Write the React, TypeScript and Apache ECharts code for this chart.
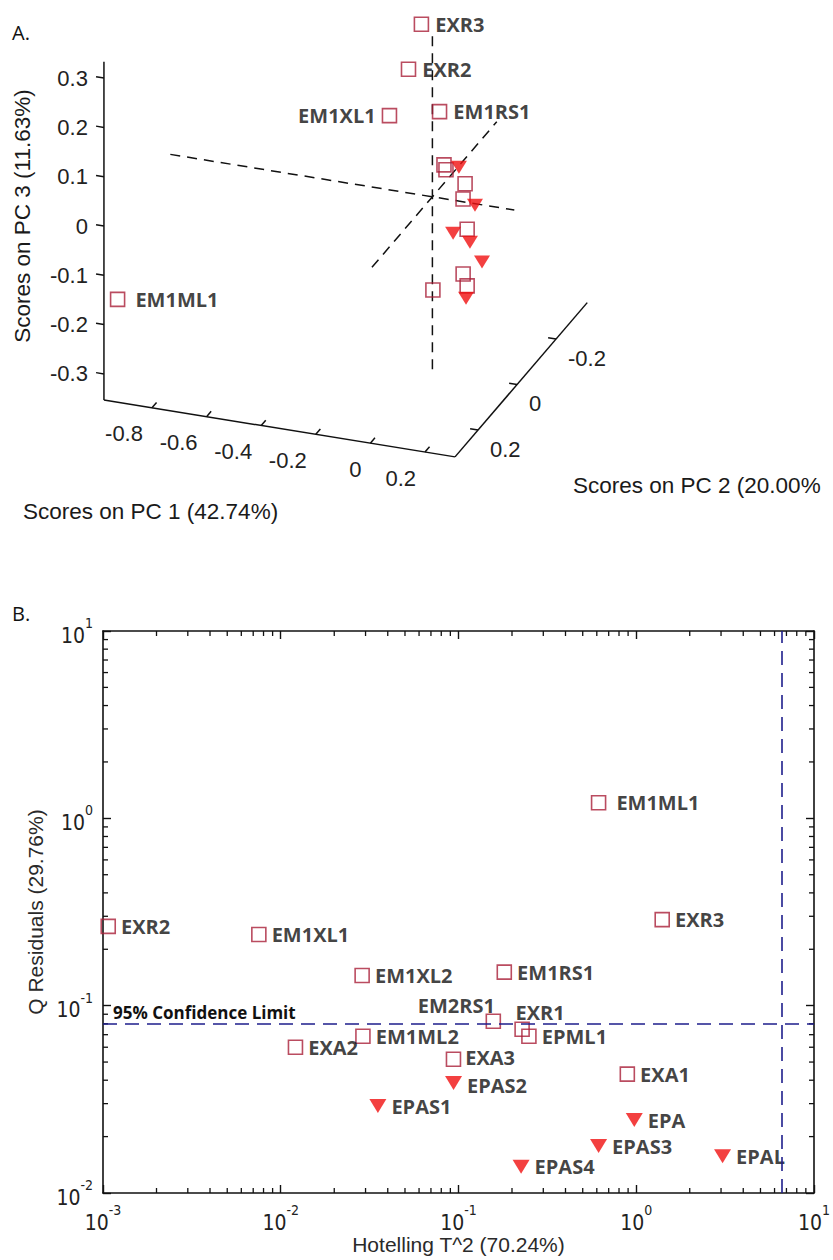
import React, { useEffect, useRef } from "react";
import * as echarts from "echarts";

// ---------------- Data ----------------
const sampleNames = [
  "EXR2", "EM1XL1", "EM1XL2", "EM1ML2", "EXA2", "EPAS1", "EM1ML1", "EXR3", "EM1RS1", "EM2RS1",
  "EXR1", "EPML1", "EXA3", "EPAS2", "EXA1", "EPA", "EPAS3", "EPAL", "EPAS4",
];
const sampleShape = [
  "square", "square", "square", "square", "square", "triangle", "square", "square", "square", "square",
  "square", "square", "square", "triangle", "square", "triangle", "triangle", "triangle", "triangle",
];

// Panel B: Hotelling T^2 vs Q residuals
const hotellingT2 = [
  0.00107, 0.00753, 0.0287, 0.029, 0.0121, 0.0352, 0.614, 1.4, 0.181, 0.157,
  0.228, 0.249, 0.0937, 0.0938, 0.891, 0.975, 0.614, 3.06, 0.225,
];
const qResiduals = [
  0.265, 0.24, 0.145, 0.0687, 0.06, 0.0291, 1.21, 0.288, 0.151, 0.0826,
  0.0748, 0.0687, 0.0518, 0.0386, 0.0431, 0.0245, 0.0178, 0.0157, 0.0138,
];
const qLimit95 = 0.0776;
const t2Limit95 = 6.55;

// Panel A: scores on PC1, PC2, PC3
const pc1Scores = [
  -0.109, -0.143, -0.029, 0.014, 0.034, -0.01, -0.946, -0.076, -0.031, 0.098,
  0.163, 0.184, 0.163, 0.156, 0.109, 0.133, 0.159, 0.146, 0.166,
];
const pc2Scores = [
  -0.03, 0.02, -0.1, -0.05, -0.12, -0.15, 0.29, -0.05, -0.08, -0.02,
  0.05, 0.1, 0.05, 0.0, 0.15, 0.08, 0.03, -0.05, 0.06,
];
const pc3Scores = [
  0.235, 0.161, 0.016, 0.033, -0.026, -0.01, -0.159, 0.32, 0.133, -0.005,
  -0.028, -0.094, -0.143, -0.003, -0.11, -0.025, -0.064, -0.142, -0.163,
];
const pc1Range = [-0.976, 0.31];
const pc2Range = [-0.36, 0.318];
const pc3Range = [-0.353, 0.333];
const pc1Ticks = [-0.8, -0.6, -0.4, -0.2, 0, 0.2];
const pc2Ticks = [-0.2, 0, 0.2];
const pc3Ticks = [-0.3, -0.2, -0.1, 0, 0.1, 0.2, 0.3];
const pc1Name = "Scores on PC 1 (42.74%)";
const pc2Name = "Scores on PC 2 (20.00%";
const pc3Name = "Scores on PC 3 (11.63%)";

const labelledInA: Record<string, string> = {
  EXR3: "right", EXR2: "right", EM1XL1: "left", EM1RS1: "right", EM1ML1: "right",
};

// log axis ranges and minor ticks (panel B)
const t2Min = 0.001, t2Max = 10;
const qMin = 0.01, qMax = 10;
const minorMultipliers = [2, 3, 4, 5, 6, 7, 8, 9];
const t2Decades = [0.001, 0.01, 0.1, 1];
const qDecades = [0.01, 0.1, 1];

// ---------------- Styles ----------------
const FONT_AXIS = "'Liberation Sans', Arial, sans-serif";
const FONT_NARROW = "'Liberation Sans Narrow', 'Arial Narrow', 'DejaVu Sans Condensed', 'Liberation Sans', sans-serif";
const FONT_LABEL = "'Open Sans', 'Noto Sans', sans-serif";
const SQUARE_COLOR = "#a91f38";
const TRI_COLOR = "#f01010";
const LIMIT_COLOR = "#1e1e8c";
const TEXT_COLOR = "#1a1a1a";

// oblique view used to project 3-D scores onto panel A's (hidden) plane
const VIEW = { o: [432.4, 196.8], e1: [273, 44.2], e2: [-195, 227.5], e3: [0, -493] };
function project(a: number, b: number, c: number): number[] {
  return [
    VIEW.o[0] + a * VIEW.e1[0] + b * VIEW.e2[0] + c * VIEW.e3[0],
    VIEW.o[1] + a * VIEW.e1[1] + b * VIEW.e2[1] + c * VIEW.e3[1],
  ];
}

const pointLabel = {
  fontFamily: FONT_LABEL,
  fontWeight: "bold" as const,
  fontSize: 20,
  lineHeight: 20,
  color: "#111",
};

function renderPanelAAxes(_params: any, api: any) {
  const P = (a: number, b: number, c: number) => api.coord(project(a, b, c));
  const [a0, a1] = pc1Range;
  const [b0, b1] = pc2Range;
  const [c0, c1] = pc3Range;
  const solid = { stroke: "#111", lineWidth: 1.5 };
  const dashed = { stroke: "#111", lineWidth: 1.5, lineDash: [10, 7] };
  const seg = (p: number[], q: number[], style: any) => ({
    type: "line",
    shape: { x1: p[0], y1: p[1], x2: q[0], y2: q[1] },
    style,
  });
  const unit = (p: number[], q: number[]) => {
    const dx = q[0] - p[0], dy = q[1] - p[1];
    const l = Math.hypot(dx, dy);
    return [dx / l, dy / l];
  };
  const origin = P(0, 0, 0);
  const d1 = unit(origin, P(1, 0, 0));
  const d2 = unit(origin, P(0, 1, 0));
  const children: any[] = [];

  // dashed lines through the origin
  children.push(seg(P(-0.96, 0, 0), P(0.3, 0, 0), dashed));
  children.push(seg(P(0, 0.31, 0), P(0, -0.33, 0), dashed));
  children.push(seg(P(0, 0, -0.35), P(0, 0, 0.33), dashed));

  // box axes
  children.push(seg(P(a0, b1, c0), P(a0, b1, c1), solid));
  children.push(seg(P(a0, b1, c0), P(a1, b1, c0), solid));
  children.push(seg(P(a1, b1, c0), P(a1, b0, c0), solid));

  const tickText = (text: string, x: number, y: number, align: string) => ({
    type: "text",
    style: {
      text, x, y, align, verticalAlign: "middle",
      fontFamily: FONT_AXIS, fontSize: 22, fill: "#222",
    },
  });

  // PC3 ticks
  pc3Ticks.forEach((v) => {
    const p = P(a0, b1, v);
    children.push(seg(p, [p[0] - 8 * d1[0], p[1] - 8 * d1[1]], solid));
    children.push(tickText(String(v), p[0] - 16, p[1], "right"));
  });
  // PC1 ticks
  pc1Ticks.forEach((v) => {
    const p = P(v, b1, c0);
    children.push(seg(p, [p[0] - 7 * d2[0], p[1] - 7 * d2[1]], solid));
    children.push(tickText(String(v), p[0] - 9, p[1] + 26, "right"));
  });
  // PC2 ticks
  pc2Ticks.forEach((v) => {
    const p = P(a1, v, c0);
    children.push(seg(p, [p[0] - 8 * d1[0], p[1] - 8 * d1[1]], solid));
    children.push(tickText(String(v), p[0] + 12, p[1] + 19, "left"));
  });
  return { type: "group", children };
}

function renderMinorTicks(_params: any, api: any) {
  const kind = api.value(2);
  const v = kind === 0 ? api.value(0) : api.value(1);
  const style = { stroke: "#111", lineWidth: 1.3 };
  if (kind === 0) {
    const b = api.coord([v, qMin]);
    const t = api.coord([v, qMax]);
    return {
      type: "group",
      children: [
        { type: "line", shape: { x1: b[0], y1: b[1], x2: b[0], y2: b[1] - 5 }, style },
        { type: "line", shape: { x1: t[0], y1: t[1], x2: t[0], y2: t[1] + 5 }, style },
      ],
    };
  }
  const l = api.coord([t2Min, v]);
  const r = api.coord([t2Max, v]);
  return {
    type: "group",
    children: [
      { type: "line", shape: { x1: l[0], y1: l[1], x2: l[0] + 5, y2: l[1] }, style },
      { type: "line", shape: { x1: r[0], y1: r[1], x2: r[0] - 5, y2: r[1] }, style },
    ],
  };
}

function buildOption() {
  const idx = sampleNames.map((_, i) => i);
  const sqIdx = idx.filter((i) => sampleShape[i] === "square");
  const triIdx = idx.filter((i) => sampleShape[i] === "triangle");

  const aItem = (i: number) => {
    const name = sampleNames[i];
    const pos = labelledInA[name];
    return {
      name,
      value: project(pc1Scores[i], pc2Scores[i], pc3Scores[i]),
      label: {
        show: !!pos,
        position: pos || "right",
        distance: name === "EM1ML1" ? 10 : 6,
      },
    };
  };

  const bLabelCfg: Record<string, any> = {
    EM2RS1: { position: "top", distance: 0, offset: [-37, 2] },
    EXR1: { position: "top", distance: 0, offset: [18, 1] },
    EM1ML1: { position: "right", distance: 10 },
    EXA3: { position: "right", distance: 4, offset: [0, -2] },
    EPAS2: { position: "right", distance: 5, offset: [0, 2] },
  };
  const bItem = (i: number) => {
    const name = sampleNames[i];
    return {
      name,
      value: [hotellingT2[i], qResiduals[i]],
      label: { show: true, ...(bLabelCfg[name] || { position: "right", distance: 5 }) },
    };
  };

  const minorData: number[][] = [];
  t2Decades.forEach((d) => minorMultipliers.forEach((m) => minorData.push([m * d, qMin, 0])));
  qDecades.forEach((d) => minorMultipliers.forEach((m) => minorData.push([t2Min, m * d, 1])));

  const expRich = {
    b: { fontFamily: FONT_NARROW, fontSize: 21, color: "#222", lineHeight: 30, verticalAlign: "bottom" },
    s: { fontFamily: FONT_NARROW, fontSize: 14, color: "#222", lineHeight: 8, verticalAlign: "top" },
  };
  const expFormatter = (value: number) => `{b|10}{s|${Math.round(Math.log10(value))}}`;

  const logAxisCommon = {
    type: "log" as const,
    logBase: 10,
    gridIndex: 1,
    axisLine: { show: true, onZero: false, lineStyle: { color: "#111", width: 1.6 } },
    axisTick: { show: true, inside: true, length: 8, lineStyle: { color: "#111", width: 1.4 } },
    splitLine: { show: false },
    minorTick: { show: false },
  };

  return {
    animation: false,
    backgroundColor: "#ffffff",
    textStyle: { fontFamily: FONT_AXIS },
    graphic: [
      { type: "text", left: 12, top: 22, style: { text: "A.", fontFamily: FONT_LABEL, fontSize: 20, fill: "#111" } },
      { type: "text", left: 12, top: 603, style: { text: "B.", fontFamily: FONT_LABEL, fontSize: 20, fill: "#111" } },
      {
        type: "text", x: 22, y: 216, rotation: Math.PI / 2,
        style: { text: pc3Name, align: "center", verticalAlign: "middle", fontFamily: FONT_AXIS, fontSize: 22.5, fill: TEXT_COLOR },
      },
      {
        type: "text", x: 23, y: 511,
        style: { text: pc1Name, align: "left", verticalAlign: "middle", fontFamily: FONT_AXIS, fontSize: 22.5, fill: TEXT_COLOR },
      },
      {
        type: "text", x: 573, y: 485,
        style: { text: pc2Name, align: "left", verticalAlign: "middle", fontFamily: FONT_AXIS, fontSize: 22.5, fill: TEXT_COLOR },
      },
    ],
    grid: [
      { left: 0, top: 0, width: 833, height: 540 },
      { left: 103, top: 631, width: 716, height: 562 },
    ],
    xAxis: [
      { gridIndex: 0, type: "value", min: 0, max: 833, show: false },
      {
        ...logAxisCommon,
        min: t2Min, max: t2Max, position: "bottom",
        name: "Hotelling T^2 (70.24%)", nameLocation: "middle", nameGap: 41,
        nameTextStyle: { fontFamily: FONT_AXIS, fontSize: 21, color: "#2a2a2a" },
        axisLabel: { show: true, margin: 10, formatter: expFormatter, rich: expRich },
      },
      {
        ...logAxisCommon,
        min: t2Min, max: t2Max, position: "top",
        axisLabel: { show: false },
      },
    ],
    yAxis: [
      { gridIndex: 0, type: "value", min: 0, max: 540, inverse: true, show: false },
      {
        ...logAxisCommon,
        min: qMin, max: qMax, position: "left",
        name: "Q Residuals (29.76%)", nameLocation: "middle", nameGap: 55,
        nameTextStyle: { fontFamily: FONT_AXIS, fontSize: 21, color: "#2a2a2a" },
        axisLabel: { show: true, margin: 10, formatter: expFormatter, rich: expRich },
      },
      {
        ...logAxisCommon,
        min: qMin, max: qMax, position: "right",
        axisLabel: { show: false },
      },
    ],
    series: [
      {
        type: "custom",
        xAxisIndex: 0, yAxisIndex: 0,
        renderItem: renderPanelAAxes,
        data: [[0, 0]],
        silent: true, clip: false, z: 1,
      },
      {
        type: "scatter", name: "A squares",
        xAxisIndex: 0, yAxisIndex: 0,
        symbol: "rect", symbolSize: 14,
        itemStyle: { color: "rgba(255,255,255,0)", borderColor: SQUARE_COLOR, borderWidth: 1.6 },
        label: { ...pointLabel, formatter: "{b}" },
        data: sqIdx.map(aItem), z: 3,
      },
      {
        type: "scatter", name: "A triangles",
        xAxisIndex: 0, yAxisIndex: 0,
        symbol: "triangle", symbolRotate: 180, symbolSize: [16, 13],
        itemStyle: { color: TRI_COLOR },
        label: { ...pointLabel, formatter: "{b}" },
        data: triIdx.map(aItem), z: 3,
      },
      {
        type: "custom",
        xAxisIndex: 1, yAxisIndex: 1,
        renderItem: renderMinorTicks,
        encode: { x: 0, y: 1 },
        data: minorData,
        silent: true, clip: false, z: 2,
      },
      {
        type: "scatter", name: "B squares",
        xAxisIndex: 1, yAxisIndex: 1,
        symbol: "rect", symbolSize: 14,
        itemStyle: { color: "rgba(255,255,255,0)", borderColor: SQUARE_COLOR, borderWidth: 1.6 },
        label: { ...pointLabel, formatter: "{b}" },
        data: sqIdx.map(bItem), z: 3,
        markLine: {
          silent: true,
          symbol: ["none", "none"],
          lineStyle: { color: LIMIT_COLOR, width: 1.6, type: [14, 8] },
          data: [
            {
              yAxis: qLimit95,
              label: {
                show: true, position: "insideStartTop", formatter: "95% Confidence Limit",
                fontFamily: FONT_LABEL, fontWeight: "bold", fontSize: 17, color: "#111",
                distance: 3, offset: [7, 0],
              },
            },
            { xAxis: t2Limit95, label: { show: false } },
          ],
        },
      },
      {
        type: "scatter", name: "B triangles",
        xAxisIndex: 1, yAxisIndex: 1,
        symbol: "triangle", symbolRotate: 180, symbolSize: [17, 14],
        itemStyle: { color: TRI_COLOR },
        label: { ...pointLabel, formatter: "{b}" },
        data: triIdx.map(bItem), z: 3,
      },
    ],
  };
}

export default function App() {
  const ref = useRef<HTMLDivElement>(null);
  useEffect(() => {
    if (!ref.current) return;
    const chart = echarts.init(ref.current, null, { renderer: "svg" });
    chart.setOption(buildOption() as any);
    return () => chart.dispose();
  }, []);
  return (
    <div
      ref={ref}
      style={{ position: "absolute", left: 0, top: 0, width: 833, height: 1260, background: "#fff" }}
    />
  );
}
